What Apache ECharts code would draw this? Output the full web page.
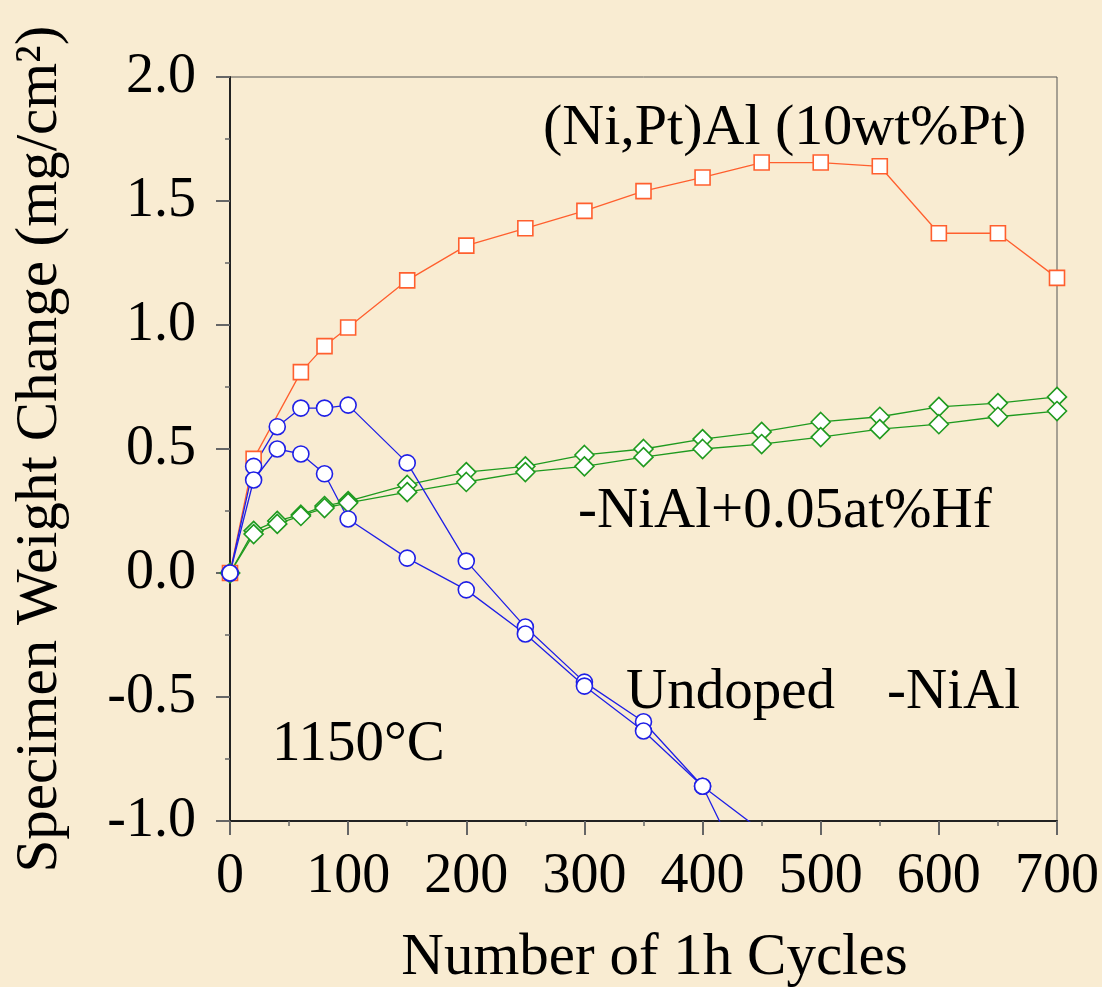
<!DOCTYPE html>
<html>
<head>
<meta charset="utf-8">
<script src="https://cdn.jsdelivr.net/npm/echarts@6/dist/echarts.min.js"></script>
<style>
html,body{margin:0;padding:0;background:#f9ecd2;}
#chart{width:1102px;height:987px;}
</style>
</head>
<body>
<div id="chart"></div>
<script>
// ---- data ----
const ptCycles = [0, 20, 60, 80, 100, 150, 200, 250, 300, 350, 400, 450, 500, 550, 600, 650, 700];
const ptAl     = [0, 0.46, 0.81, 0.915, 0.99, 1.18, 1.32, 1.39, 1.46, 1.54, 1.595, 1.655, 1.655, 1.64, 1.37, 1.37, 1.19];

const hfCycles = [0, 20, 40, 60, 80, 100, 150, 200, 250, 300, 350, 400, 450, 500, 550, 600, 650, 700];
const hfA      = [0, 0.17, 0.21, 0.235, 0.27, 0.29, 0.355, 0.407, 0.43, 0.476, 0.50, 0.54, 0.569, 0.609, 0.63, 0.67, 0.685, 0.71];
const hfB      = [0, 0.157, 0.198, 0.23, 0.262, 0.283, 0.326, 0.367, 0.407, 0.43, 0.467, 0.50, 0.52, 0.548, 0.58, 0.60, 0.63, 0.653];

const unCycles = [0, 20, 40, 60, 80, 100, 150, 200, 250, 300, 350, 400, 450];
const undopedA = [0, 0.43, 0.59, 0.665, 0.665, 0.677, 0.444, 0.048, -0.218, -0.44, -0.60, -0.86, -1.04];
const undopedB = [0, 0.375, 0.50, 0.48, 0.40, 0.218, 0.06, -0.068, -0.246, -0.456, -0.637, -0.86, -1.35];

const xTicks = {min: 0, max: 700, interval: 100};
const yTicks = {min: -1.0, max: 2.0, interval: 0.5};

const FONT = '"Liberation Serif", "Times New Roman", serif';
const ORANGE = '#ff5f2e', BLUE = '#1f1fe6', GREEN = '#1f9a1f';

const pairs = (xs, ys) => xs.map((x, i) => [x, ys[i]]);

const chart = echarts.init(document.getElementById('chart'), null, {renderer: 'canvas'});

function lineSeries(name, xs, ys, color, symbol, size) {
  return {
    name, type: 'line', data: pairs(xs, ys), clip: true,
    symbol, symbolSize: size, showAllSymbol: true,
    lineStyle: {color, width: 1.3},
    itemStyle: {color: '#ffffff', borderColor: color, borderWidth: 1.6},
    emphasis: {disabled: true}, animation: false
  };
}

chart.setOption({
  backgroundColor: '#f9ecd2',
  animation: false,
  grid: {left: 230, right: 45, top: 77, bottom: 166, containLabel: false, outerBoundsMode: 'none',
         show: true, borderColor: '#555', borderWidth: 1, backgroundColor: 'transparent'},
  xAxis: {
    type: 'value', min: xTicks.min, max: xTicks.max, interval: xTicks.interval,
    name: 'Number of 1h Cycles', nameLocation: 'middle', nameGap: 108,
    nameTextStyle: {fontFamily: FONT, fontSize: 59, color: '#000', padding: [0, 0, 0, 22]},
    axisLine: {show: true, onZero: false, lineStyle: {color: '#222', width: 2}},
    axisTick: {show: true, inside: false, length: 14, lineStyle: {color: '#666', width: 2}},
    minorTick: {show: true, splitNumber: 2, length: 5, lineStyle: {color: '#666', width: 1.5}},
    splitLine: {show: false},
    axisLabel: {fontFamily: FONT, fontSize: 56, color: '#000', margin: 28}
  },
  yAxis: {
    type: 'value', min: yTicks.min, max: yTicks.max, interval: yTicks.interval,
    name: 'Specimen Weight Change (mg/cm²)', nameLocation: 'middle', nameGap: 160, nameRotate: 90,
    nameTextStyle: {fontFamily: FONT, fontSize: 59, color: '#000'},
    axisLine: {show: true, onZero: false, lineStyle: {color: '#222', width: 2}},
    axisTick: {show: true, inside: false, length: 14, lineStyle: {color: '#666', width: 2}},
    minorTick: {show: true, splitNumber: 2, length: 5, lineStyle: {color: '#666', width: 1.5}},
    splitLine: {show: false},
    axisLabel: {fontFamily: FONT, fontSize: 56, color: '#000', margin: 34, formatter: v => v.toFixed(1)}
  },
  series: [
    lineSeries('(Ni,Pt)Al (10wt%Pt)', ptCycles, ptAl, ORANGE, 'rect', 15),
    lineSeries('NiAl+0.05at%Hf A', hfCycles, hfA, GREEN, 'diamond', 19),
    lineSeries('NiAl+0.05at%Hf B', hfCycles, hfB, GREEN, 'diamond', 19),
    lineSeries('Undoped NiAl A', unCycles, undopedA, BLUE, 'circle', 16),
    lineSeries('Undoped NiAl B', unCycles, undopedB, BLUE, 'circle', 16)
  ],
  graphic: [
    {type: 'text', left: 543, top: 100, style: {text: '(Ni,Pt)Al (10wt%Pt)', font: '58px ' + FONT, fill: '#000'}},
    {type: 'text', left: 578, top: 484, style: {text: '-NiAl+0.05at%Hf', font: '57px ' + FONT, fill: '#000'}},
    {type: 'text', left: 626, top: 665, style: {text: 'Undoped', font: '57px ' + FONT, fill: '#000'}},
    {type: 'text', left: 887, top: 665, style: {text: '-NiAl', font: '57px ' + FONT, fill: '#000'}},
    {type: 'text', left: 272, top: 717, style: {text: '1150°C', font: '57px ' + FONT, fill: '#000'}}
  ]
});
</script>
</body>
</html>
